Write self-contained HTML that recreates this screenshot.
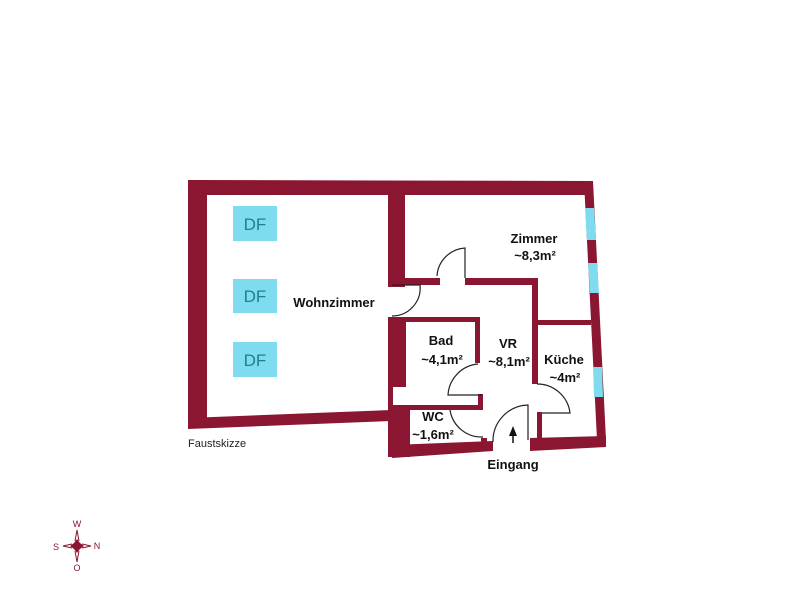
<!DOCTYPE html>
<html><head><meta charset="utf-8"><style>
html,body{margin:0;padding:0;background:#fff;}
svg{display:block}
text{font-family:"Liberation Sans",sans-serif;}
</style></head><body>
<svg width="800" height="600" viewBox="0 0 800 600" xmlns="http://www.w3.org/2000/svg">
<g fill="#8b1631">
<polygon points="188,180 593,181 593,195 188,195"/>
<rect x="188" y="180" width="19" height="248"/>
<polygon points="188,418 392,410 392,421 188,429"/>
<rect x="388" y="190" width="17" height="97"/>
<rect x="388" y="278" width="52" height="7"/>
<rect x="465" y="278" width="72" height="7"/>
<rect x="532" y="278" width="6" height="106"/>
<rect x="537" y="412" width="5" height="30"/>
<rect x="537" y="320" width="54" height="5"/>
<polygon points="584,181 593,181 606,440 597,440"/>
<polygon points="530,438 606,436 606,447 530,451"/>
<polygon points="392,445 493,441 493,451 392,458"/>
<rect x="388" y="317" width="18" height="70"/>
<rect x="388" y="405" width="22" height="52"/>
<rect x="388" y="387" width="5" height="18"/>
<rect x="388" y="317" width="92" height="5"/>
<rect x="475" y="317" width="5" height="46"/>
<rect x="478" y="394" width="5" height="16"/>
<rect x="393" y="405" width="89" height="5"/>
<rect x="481" y="438" width="6" height="8"/>
</g>
<g fill="#7fdcef">
<polygon points="585,208 594,208 596,240 587,240"/>
<polygon points="588,263 597,263 599,293 590,293"/>
<polygon points="593,367 602,367 603,397 594,397"/>
</g>
<g fill="none" stroke="#222" stroke-width="1.2">
<path d="M392,285 L420,285 A28,28 0 0 1 392,316"/>
<path d="M465,278 L465,248 A30,30 0 0 0 437,276"/>
<path d="M482,395 L448,395 A33,33 0 0 1 478,364"/>
<path d="M483,437 A32,32 0 0 1 450,410"/>
<path d="M528,440 L528,405 A36,36 0 0 0 493,442"/>
<path d="M537,384 A33,33 0 0 1 570,413 L542,413"/>
</g>
<g fill="#7fdcef">
<rect x="233" y="206" width="44" height="35"/>
<rect x="233" y="279" width="44" height="34"/>
<rect x="233" y="342" width="44" height="35"/>
</g>
<g fill="#1f7f8e" font-size="17" text-anchor="middle">
<text x="255" y="230">DF</text>
<text x="255" y="302">DF</text>
<text x="255" y="366">DF</text>
</g>
<g font-size="13" font-weight="bold" fill="#111" text-anchor="middle">
<text x="334" y="307">Wohnzimmer</text>
<text x="534" y="243">Zimmer</text>
<text x="535" y="260">~8,3m²</text>
<text x="441" y="345">Bad</text>
<text x="442" y="364">~4,1m²</text>
<text x="508" y="348">VR</text>
<text x="509" y="366">~8,1m²</text>
<text x="564" y="364">Küche</text>
<text x="565" y="382">~4m²</text>
<text x="433" y="421">WC</text>
<text x="433" y="439">~1,6m²</text>
<text x="513" y="469">Eingang</text>
</g>
<text x="188" y="447" font-size="11" fill="#222">Faustskizze</text>
<line x1="513" y1="443" x2="513" y2="432" stroke="#111" stroke-width="1.5"/>
<polygon points="513,426 509,436 517,436" fill="#111"/>
<g>
<polygon points="77,539 80,543 84,546 80,549 77,553 74,549 70,546 74,543" fill="#8b1631"/>
<g stroke="#8b1631" stroke-width="1" fill="none">
<path d="M75,541 L77,530 L79,541"/>
<path d="M75,551 L77,562 L79,551"/>
<path d="M72,544 L63,546 L72,548"/>
<path d="M82,544 L91,546 L82,548"/>
</g>
<g font-family="Liberation Serif,serif" font-size="9" fill="#8b1631" text-anchor="middle">
<text x="77" y="527">W</text>
<text x="77" y="571">O</text>
<text x="56" y="550">S</text>
<text x="97" y="549">N</text>
</g>
</g>
</svg>
</body></html>
